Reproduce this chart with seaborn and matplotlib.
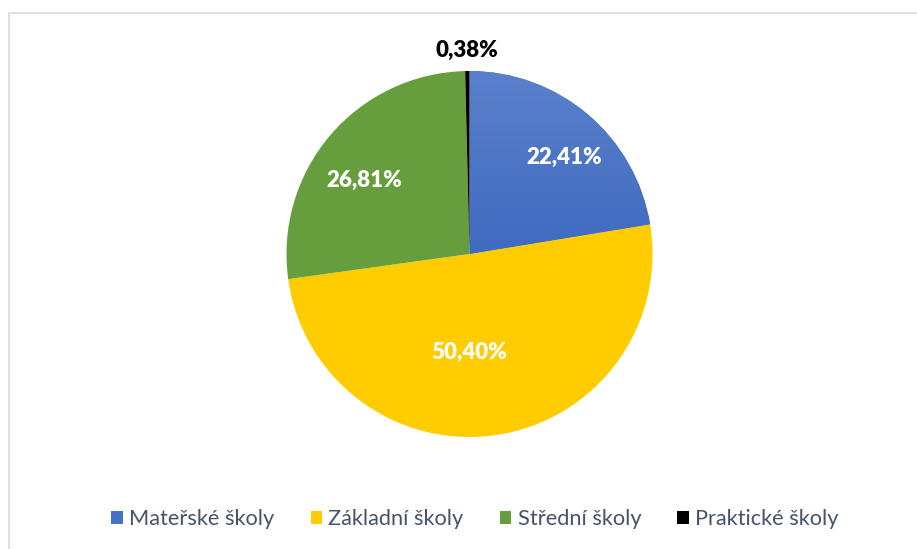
import numpy as np
import matplotlib.pyplot as plt
import seaborn as sns
from matplotlib.patches import Rectangle
from matplotlib.colors import LinearSegmentedColormap

# data
categories = ["Mateřské školy", "Základní školy", "Střední školy", "Praktické školy"]
shares = [22.41, 50.40, 26.81, 0.38]
colors = ["#4472C4", "#FFCC00", "#669E3D", "#000000"]
label_colors = ["white", "white", "white", "black"]
# label placement (fraction of radius, angle nudge in degrees), Excel "best fit"
label_dist = [0.74, 0.54, 0.70, 1.11]
label_nudge = [-4.3, -8.9, 5.4, 0.0]

sns.set_theme(style="white")
plt.rcParams["font.family"] = ["Lato", "DejaVu Sans"]

W, H = 917, 549
fig = plt.figure(figsize=(W / 100, H / 100), dpi=100)
ax = fig.add_axes([0, 0, 1, 1])

# light chart border (cut off at right/bottom like in the screenshot)
ax.add_patch(Rectangle((9, -20), W + 20, H - 13 + 20, fill=False,
                       edgecolor="#DDE1E7", linewidth=1.5))

cx, cy, r = 469.5, H - 254, 183
wedges, _ = ax.pie(shares, colors=colors, startangle=90, counterclock=False,
                   center=(cx, cy), radius=r, frame=True,
                   wedgeprops=dict(linewidth=0))
ax.set_xlim(0, W)
ax.set_ylim(0, H)
ax.axis("off")

# soft vertical gradient on the blue slice
grad = np.linspace(0, 1, 256).reshape(-1, 1)
cmap = LinearSegmentedColormap.from_list("blue", ["#3A66BD", "#5B80CC"])
im = ax.imshow(grad, cmap=cmap, aspect="auto", origin="lower",
               extent=(cx, cx + r, cy - 40, cy + r), zorder=wedges[0].get_zorder() + 0.1)
im.set_clip_path(wedges[0])
ax.set_xlim(0, W)
ax.set_ylim(0, H)

# data labels
angle = 90.0
for val, col, d, nud in zip(shares, label_colors, label_dist, label_nudge):
    span = val / sum(shares) * 360
    mid = np.deg2rad(angle - span / 2 + nud)
    angle -= span
    txt = f"{val:.2f}%".replace(".", ",")
    ax.text(cx + d * r * np.cos(mid), cy + d * r * np.sin(mid), txt,
            ha="center", va="center", color=col, fontsize=16, fontweight="heavy", zorder=5)

ax.legend(wedges, categories, loc="center", bbox_to_anchor=(475 / W, (H - 519) / H),
          ncol=4, frameon=False, fontsize=15.7, handlelength=0.52, handleheight=0.52,
          handletextpad=0.3, columnspacing=1.65, labelcolor="#44546A")

fig.savefig("out.png", dpi=100)
